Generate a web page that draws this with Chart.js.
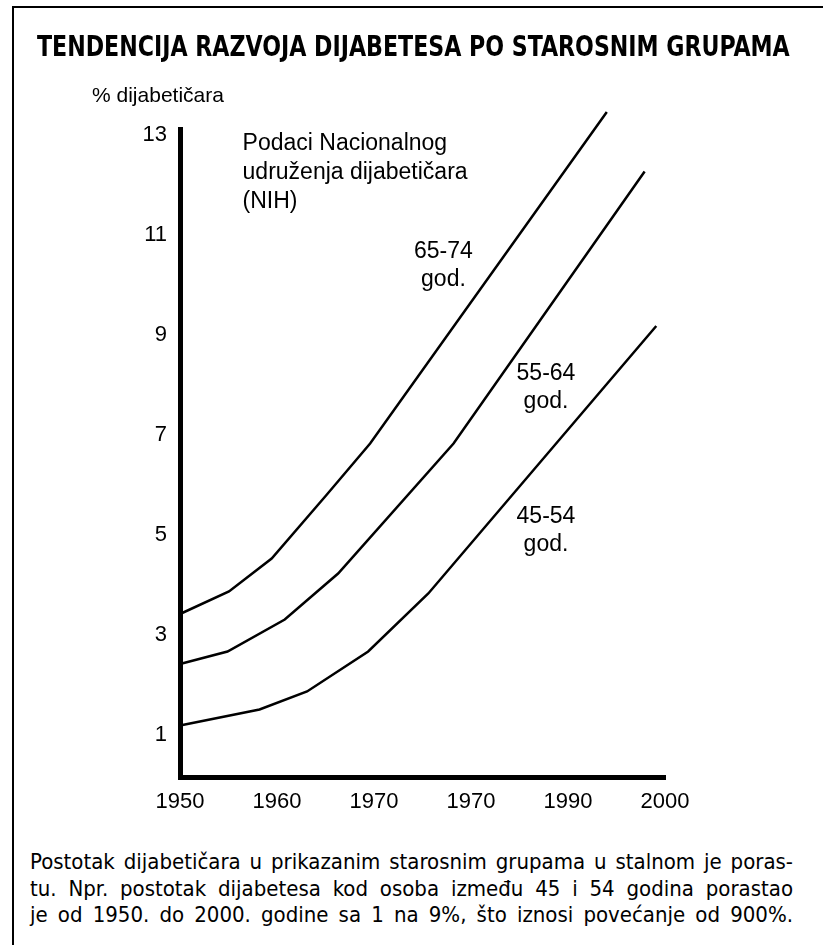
<!DOCTYPE html>
<html>
<head>
<meta charset="utf-8">
<script src="https://cdn.jsdelivr.net/npm/chart.js@4.4.0/dist/chart.umd.min.js"></script>
<style>
html, body { margin: 0; padding: 0; background: #fff; }
body { width: 823px; height: 945px; position: relative; overflow: hidden; color: #000; }
#frame { position: absolute; left: 12px; top: 6px; right: 0; bottom: 0; border-left: 2px solid #000; border-top: 2px solid #000; }
#title { position: absolute; left: -586.5px; width: 2000px; top: 30px; line-height: 34px; text-align: center; white-space: nowrap; font: bold 28px "Liberation Sans Narrow", "DejaVu Sans Condensed", sans-serif; }
#titletext { display: inline-block; transform-origin: 50% 50%; }
#ylab { position: absolute; left: 92px; top: 83px; line-height: 24px; font: 21px "Liberation Sans", Arial, sans-serif; }
#chart { position: absolute; left: 0; top: 0; }
#note { position: absolute; left: 30px; width: 763px; top: 849px; font: 22px "Liberation Sans Narrow", "DejaVu Sans Condensed", sans-serif; line-height: 26.5px; }
#note div { text-align: justify; text-align-last: justify; white-space: nowrap; }
</style>
</head>
<body>
<div id="frame"></div>
<canvas id="chart" width="823" height="830"></canvas>
<div id="title"><span id="titletext">TENDENCIJA RAZVOJA DIJABETESA PO STAROSNIM GRUPAMA</span></div>
<div id="ylab">% dijabetičara</div>
<div id="note">
  <div>Postotak dijabetičara u prikazanim starosnim grupama u stalnom je poras-</div>
  <div>tu. Npr. postotak dijabetesa kod osoba između 45 i 54 godina porastao</div>
  <div>je od 1950. do 2000. godine sa 1 na 9%, što iznosi povećanje od 900%.</div>
</div>
<script>
// values (% of diabetics by age group)
var years6574 = [1950, 1955.05, 1959.45, 1965.1, 1969.6, 1994.0];
var pct6574   = [3.42, 3.87, 4.53, 5.80, 6.83, 13.46];
var years5564 = [1950, 1954.9, 1960.8, 1966.3, 1978.2, 1997.9];
var pct5564   = [2.42, 2.67, 3.31, 4.23, 6.83, 12.27];
var years4554 = [1950, 1958.2, 1963.1, 1969.4, 1975.6, 1999.1];
var pct4554   = [1.19, 1.51, 1.87, 2.67, 3.83, 9.18];

var seriesNames = ['65-74', '55-64', '45-54'];
var xTicks = [1950, 1960, 1970, 1980, 1990, 2000];
var xTickLabels = ['1950', '1960', '1970', '1970', '1990', '2000'];
var yTicks = [1, 3, 5, 7, 9, 11, 13];
var noteLines = ['Podaci Nacionalnog', 'udruženja dijabetičara', '(NIH)'];

var textFont = '23px "Liberation Sans", Arial, sans-serif';

//Squeezes the title to the printed width
var titleText = document.getElementById('titletext');
titleText.style.transform = 'scaleX(' + (753 / titleText.offsetWidth) + ')';

function points(xs, ys) {
	return xs.map(function (x, i) { return {x: x, y: ys[i]}; });
}

//Where the texts inside the plot sit, in axis units
var noteAt = {x: 1956.45, y: 12.82, step: 28.7};
var labelAt = [
	{x: 1977.16, y: 10.66},
	{x: 1987.73, y: 8.22},
	{x: 1987.73, y: 5.36}
];

var textPlugin = {
	id: 'plotTexts',
	afterDatasetsDraw: function (chart) {
		var ctx = chart.ctx, xs = chart.scales.x, ys = chart.scales.y;
		ctx.save();
		ctx.fillStyle = '#000';
		ctx.font = textFont;
		ctx.textBaseline = 'middle';

		ctx.textAlign = 'left';
		var nx = xs.getPixelForValue(noteAt.x), ny = ys.getPixelForValue(noteAt.y);
		noteLines.forEach(function (line, i) {
			ctx.fillText(line, nx, ny + i * noteAt.step);
		});

		ctx.textAlign = 'center';
		labelAt.forEach(function (p, i) {
			var px = xs.getPixelForValue(p.x), py = ys.getPixelForValue(p.y);
			ctx.fillText(seriesNames[i], px, py);
			ctx.fillText('god.', px, py + 27.5);
		});
		ctx.restore();
	}
};

var lineStyle = {borderColor: '#000', borderWidth: 2.5, pointRadius: 0, tension: 0, fill: false, clip: false};

new Chart(document.getElementById('chart'), {
	type: 'line',
	data: {
		datasets: [
			Object.assign({label: seriesNames[0], data: points(years6574, pct6574)}, lineStyle),
			Object.assign({label: seriesNames[1], data: points(years5564, pct5564)}, lineStyle),
			Object.assign({label: seriesNames[2], data: points(years4554, pct4554)}, lineStyle)
		]
	},
	options: {
		responsive: false,
		animation: false,
		devicePixelRatio: 1,
		layout: {padding: {top: 129.5, right: 158, bottom: 12.5, left: 0}},
		plugins: {legend: {display: false}, tooltip: {enabled: false}},
		scales: {
			x: {
				type: 'linear',
				min: 1950,
				max: 2000,
				grid: {display: false, drawTicks: false},
				border: {display: true, width: 5, color: '#000'},
				afterBuildTicks: function (s) { s.ticks = xTicks.map(function (v) { return {value: v}; }); },
				afterFit: function (s) { s.height = 40; },
				ticks: {
					padding: 11,
					color: '#000',
					autoSkip: false,
					maxRotation: 0,
					font: {family: '"Liberation Sans", Arial, sans-serif', size: 22},
					callback: function (v, i) { return xTickLabels[i]; }
				}
			},
			y: {
				type: 'linear',
				min: 0.15,
				max: 13.11,
				grid: {display: false, drawTicks: false},
				border: {display: true, width: 5, color: '#000'},
				afterBuildTicks: function (s) { s.ticks = yTicks.map(function (v) { return {value: v}; }); },
				afterFit: function (s) { s.width = 180; },
				ticks: {
					padding: 13,
					color: '#000',
					font: {family: '"Liberation Sans", Arial, sans-serif', size: 22},
					callback: function (v) { return String(v); }
				}
			}
		}
	},
	plugins: [textPlugin]
});
</script>
</body>
</html>
